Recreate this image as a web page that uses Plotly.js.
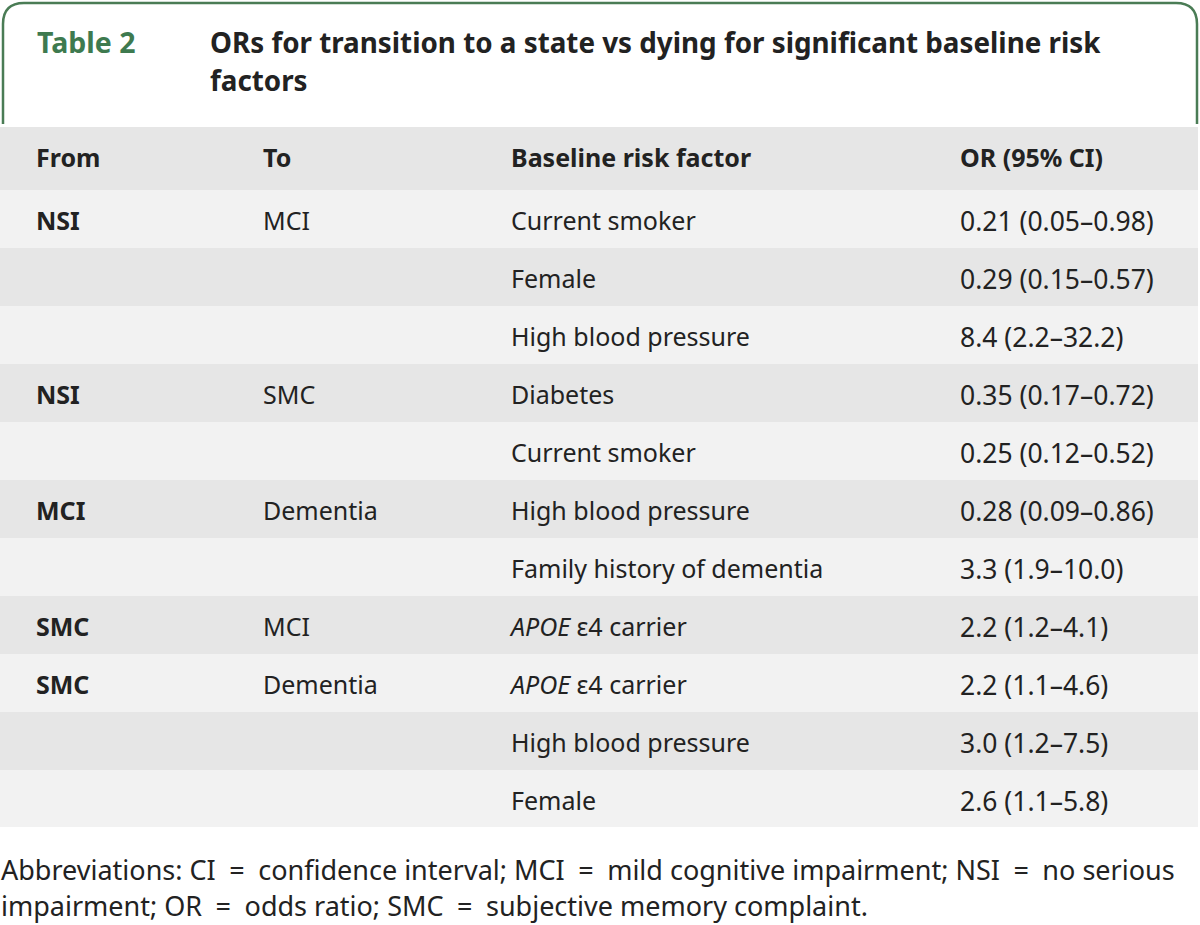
<!DOCTYPE html>
<html>
<head>
<meta charset="utf-8">
<script src="https://cdn.plot.ly/plotly-3.0.1.min.js"></script>
<style>html,body{margin:0;padding:0;background:#fff;} #chart{width:1200px;height:925px;}</style>
</head>
<body>
<div id="chart"></div>
<script>
// ---- data ----
const tableLabel = "Table 2";
const titleLines = ["ORs for transition to a state vs dying for significant baseline risk", "factors"];
const headers = ["From", "To", "Baseline risk factor", "OR (95% CI)"];
const fromCol = ["NSI", "", "", "NSI", "", "MCI", "", "SMC", "SMC", "", ""];
const toCol = ["MCI", "", "", "SMC", "", "Dementia", "", "MCI", "Dementia", "", ""];
const riskFactor = ["Current smoker", "Female", "High blood pressure", "Diabetes", "Current smoker",
  "High blood pressure", "Family history of dementia", "<i>APOE</i> ε4 carrier", "<i>APOE</i> ε4 carrier",
  "High blood pressure", "Female"];
const orCI = ["0.21 (0.05–0.98)", "0.29 (0.15–0.57)", "8.4 (2.2–32.2)", "0.35 (0.17–0.72)", "0.25 (0.12–0.52)",
  "0.28 (0.09–0.86)", "3.3 (1.9–10.0)", "2.2 (1.2–4.1)", "2.2 (1.1–4.6)", "3.0 (1.2–7.5)", "2.6 (1.1–5.8)"];
const footnoteLines = [
  "Abbreviations: CI\u2002=\u2002confidence interval; MCI\u2002=\u2002mild cognitive impairment; NSI\u2002=\u2002no serious",
  "impairment; OR\u2002=\u2002odds ratio; SMC\u2002=\u2002subjective memory complaint."
];

// ---- layout helpers ----
const W = 1200, H = 925;
const px = x => x / W;
const py = y => 1 - y / H;
const FONT = "Noto Sans, sans-serif";
const dark = "#222222";
const green = "#3e7a4f";
const light = "#f2f2f2", shade = "#e6e6e6";
const clear = "rgba(0,0,0,0)";
const TOP = 127, BOTTOM = 828, TEXT_SHIFT = 5;
const colW = [28, 227, 248, 449, 246];

const rowFill = fromCol.map((_, i) => i % 2 === 0 ? light : shade);
const blank = fromCol.map(() => "");
const span = s => "<span>" + s + "</span>";

// background table: row fills only
const fillTrace = {
  type: "table",
  domain: {x: [0, 1198 / W], y: [py(BOTTOM), py(TOP)]},
  columnwidth: colW,
  header: {values: ["", "", "", "", ""], height: 63, fill: {color: shade},
           line: {color: clear, width: 0}},
  cells: {values: [blank, blank, blank, blank, blank], height: 58,
          fill: {color: [rowFill, rowFill, rowFill, rowFill, rowFill]},
          line: {color: clear, width: 0}}
};

// text table, nudged down so text sits at the middle of each row
const textTrace = {
  type: "table",
  domain: {x: [0, 1198 / W], y: [py(BOTTOM + TEXT_SHIFT), py(TOP + TEXT_SHIFT)]},
  columnwidth: colW,
  header: {
    values: [""].concat(headers.map(h => "<b>" + h + "</b>")),
    align: "left", height: 63,
    fill: {color: clear}, line: {color: clear, width: 0},
    font: {family: FONT, size: 25, color: dark}
  },
  cells: {
    values: [blank, fromCol.map(s => "<b>" + s + "</b>"), toCol.map(span), riskFactor.map(span), orCI.map(span)],
    align: "left", height: 58,
    fill: {color: clear}, line: {color: clear, width: 0},
    font: {family: FONT, size: [25, 25, 25, 25, 26.5], color: dark}
  }
};

const annotations = [
  {text: "<b>" + tableLabel + "</b>", x: px(36), y: py(42), xanchor: "left", yanchor: "middle",
   font: {family: FONT, size: 28.5, color: green}},
  {text: "<b>" + titleLines[0] + "</b>", x: px(209), y: py(42), xanchor: "left", yanchor: "middle",
   font: {family: FONT, size: 27.8, color: dark}},
  {text: "<b>" + titleLines[1] + "</b>", x: px(209), y: py(80), xanchor: "left", yanchor: "middle",
   font: {family: FONT, size: 27.8, color: dark}},
  {text: footnoteLines[0], x: px(0), y: py(869), xanchor: "left", yanchor: "middle",
   font: {family: FONT, size: 27, color: dark}},
  {text: footnoteLines[1], x: px(0), y: py(905), xanchor: "left", yanchor: "middle",
   font: {family: FONT, size: 27, color: dark}}
].map(a => Object.assign({xref: "paper", yref: "paper", showarrow: false, borderpad: 0}, a));

const borderPath = "M " + px(3) + "," + py(124) +
  " L " + px(3) + "," + py(24) +
  " Q " + px(3) + "," + py(3) + " " + px(24) + "," + py(3) +
  " L " + px(1176) + "," + py(3) +
  " Q " + px(1197) + "," + py(3) + " " + px(1197) + "," + py(24) +
  " L " + px(1197) + "," + py(124);

const layout = {
  width: W, height: H,
  margin: {l: 0, r: 0, t: 0, b: 0},
  paper_bgcolor: "#ffffff",
  annotations: annotations,
  shapes: [{type: "path", xref: "paper", yref: "paper", path: borderPath,
            line: {color: "#4a7c55", width: 2.5}}]
};

Plotly.newPlot("chart", [fillTrace, textTrace], layout, {displayModeBar: false, staticPlot: true});
</script>
</body>
</html>
